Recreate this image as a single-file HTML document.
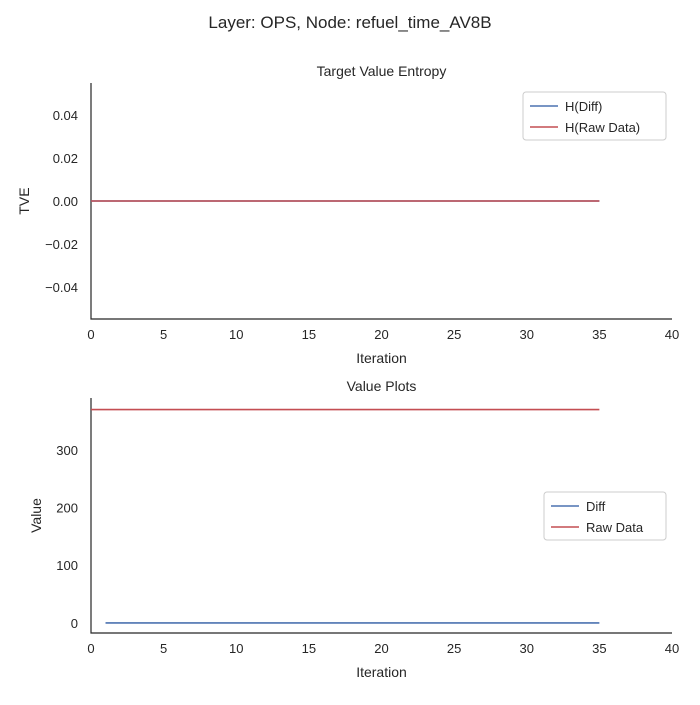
<!DOCTYPE html>
<html><head><meta charset="utf-8"><style>
body{margin:0;background:#fff;font-family:"Liberation Sans","DejaVu Sans",sans-serif;}
svg text{font-family:"Liberation Sans","DejaVu Sans",sans-serif;fill:#262626;}
</style></head><body>
<svg id="c" width="700" height="700" viewBox="0 0 700 700">
<text x="350" y="28" text-anchor="middle" font-size="17">Layer: OPS, Node: refuel_time_AV8B</text>
</svg>
<script>
const xTicks=[0,5,10,15,20,25,30,35,40];
const topYTicks=[-0.04,-0.02,0.00,0.02,0.04];
const topYLabels=["−0.04","−0.02","0.00","0.02","0.04"];
const topIter=[0,35];
const topHDiff=[0,0];
const topHRaw=[0,0];
const botYTicks=[0,100,200,300];
const botYLabels=["0","100","200","300"];
const diffIter=[1,35];
const diffVals=[0,0];
const rawIter=[0,35];
const rawVals=[370,370];

const svg=document.getElementById('c');
const NS='http://www.w3.org/2000/svg';
function mk(t,a,p){const e=document.createElementNS(NS,t);for(const k in a)e.setAttribute(k,a[k]);(p||svg).appendChild(e);return e;}
const x0=91,x1=672;
const sx=v=>x0+(v-0)/(40-0)*(x1-x0);

function panel(name,top,bot,yMin,yMax,yTicks,yLabels,title,ylabel){
  const g=mk('g',{});
  
  
  const sy=v=>bot-(v-yMin)/(yMax-yMin)*(bot-top);
  const ax=mk('path',{d:`M${x0},${top}V${bot}H${x1}`,stroke:'#262626','stroke-width':1.2,fill:'none'},g);
  
  
  xTicks.forEach(t=>{
    const tx=mk('text',{x:sx(t),y:bot+20,'text-anchor':'middle','font-size':13},g);tx.textContent=t;
    
    
  });
  yTicks.forEach((t,i)=>{
    const ty=mk('text',{x:x0-13,y:sy(t)+5,'text-anchor':'end','font-size':13},g);ty.textContent=yLabels[i];
    
    
  });
  const tt=mk('text',{x:(x0+x1)/2,y:top-7,'text-anchor':'middle','font-size':14},g);tt.textContent=title;
  
  
  const xl=mk('text',{x:(x0+x1)/2,y:bot+44,'text-anchor':'middle','font-size':14},g);xl.textContent='Iteration';
  
  
  const yc=(top+bot)/2, yx=name==='top-panel'?29:41;
  const yl=mk('text',{x:yx,y:yc,'text-anchor':'middle','font-size':14,transform:`rotate(-90 ${yx} ${yc})`},g);yl.textContent=ylabel;
  
  
  return {g,sy};
}
function line(g,sy,xs,ys,color,nm){
  const d=xs.map((v,i)=>(i?'L':'M')+sx(v)+','+sy(ys[i])).join('');
  const p=mk('path',{d,stroke:color,'stroke-width':1.6,fill:'none'},g);
  
  
}
function legend(g,x,y,w,labels){
  const lg=mk('g',{},g);
  
  
  mk('rect',{x,y,width:w,height:48,rx:3,fill:'#fff',stroke:'#ccc'},lg);
  labels.forEach((l,i)=>{
    const yy=y+14+i*21;
    mk('line',{x1:x+7,x2:x+35,y1:yy,y2:yy,stroke:l[1],'stroke-width':1.6},lg);
    const t=mk('text',{x:x+42,y:yy+5,'font-size':13},lg);t.textContent=l[0];
    
    
  });
}
const blue='#4c72b0',red='#c44e52';
const p1=panel('top-panel',83,319,-0.055,0.055,topYTicks,topYLabels,'Target Value Entropy','TVE');
line(p1.g,p1.sy,topIter,topHDiff,blue,'h-diff-line');
line(p1.g,p1.sy,topIter,topHRaw,red,'h-raw-data-line');
legend(p1.g,523,92,143,[['H(Diff)',blue],['H(Raw Data)',red]]);
const p2=panel('bottom-panel',398,633,-17.5,390,botYTicks,botYLabels,'Value Plots','Value');
line(p2.g,p2.sy,diffIter,diffVals,blue,'diff-line');
line(p2.g,p2.sy,rawIter,rawVals,red,'raw-data-line');
legend(p2.g,544,492,122,[['Diff',blue],['Raw Data',red]]);
</script>
</body></html>
